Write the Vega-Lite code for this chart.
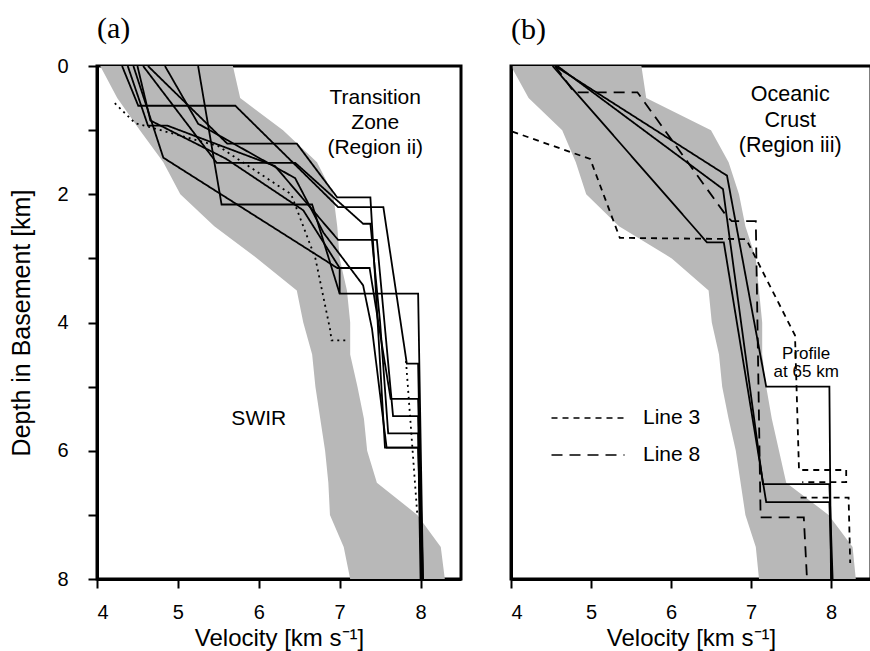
{
  "$schema": "https://vega.github.io/schema/vega-lite/v6.json",
  "padding": {"left": 8, "top": 12, "right": 0, "bottom": 0},
  "background": "white",
  "resolve": {"scale": {"strokeDash": "independent"}, "legend": {"strokeDash": "independent"}},
  "config": {
    "font": "Liberation Sans",
    "view": {"stroke": "black", "strokeWidth": 3},
    "axis": {"domainColor": "black", "domainWidth": 3, "tickColor": "black", "tickWidth": 2, "labelColor": "black", "titleColor": "black", "grid": false, "labelFontSize": 20, "titleFontSize": 25, "titleFontWeight": "normal", "labelFont": "Liberation Sans", "titleFont": "Liberation Sans"},
    "text": {"font": "Liberation Sans", "lineBreak": "\n", "color": "black"}
  },
  "datasets": {
    "envelope": [
      {"panel": "a", "d": 0, "v": 4.04, "v2": 5.68},
      {"panel": "a", "d": 0.5, "v": 4.25, "v2": 5.77},
      {"panel": "a", "d": 1.0, "v": 4.53, "v2": 6.3},
      {"panel": "a", "d": 1.5, "v": 4.82, "v2": 6.72},
      {"panel": "a", "d": 2.0, "v": 5.03, "v2": 6.92},
      {"panel": "a", "d": 2.5, "v": 5.45, "v2": 6.97},
      {"panel": "a", "d": 3.0, "v": 5.98, "v2": 7.0},
      {"panel": "a", "d": 3.5, "v": 6.47, "v2": 7.09},
      {"panel": "a", "d": 4.0, "v": 6.55, "v2": 7.13},
      {"panel": "a", "d": 4.5, "v": 6.66, "v2": 7.13},
      {"panel": "a", "d": 5.0, "v": 6.7, "v2": 7.22},
      {"panel": "a", "d": 5.5, "v": 6.76, "v2": 7.3},
      {"panel": "a", "d": 6.0, "v": 6.82, "v2": 7.34},
      {"panel": "a", "d": 6.5, "v": 6.86, "v2": 7.46},
      {"panel": "a", "d": 7.0, "v": 6.88, "v2": 7.96},
      {"panel": "a", "d": 7.5, "v": 7.05, "v2": 8.25},
      {"panel": "a", "d": 8.0, "v": 7.13, "v2": 8.3},
      {"panel": "b", "d": 0, "v": 4.0, "v2": 5.63},
      {"panel": "b", "d": 0.5, "v": 4.22, "v2": 5.69},
      {"panel": "b", "d": 1.0, "v": 4.64, "v2": 6.5},
      {"panel": "b", "d": 1.5, "v": 4.81, "v2": 6.72},
      {"panel": "b", "d": 2.0, "v": 4.94, "v2": 6.85},
      {"panel": "b", "d": 2.5, "v": 5.35, "v2": 6.93},
      {"panel": "b", "d": 3.0, "v": 6.01, "v2": 7.06},
      {"panel": "b", "d": 3.5, "v": 6.47, "v2": 7.1},
      {"panel": "b", "d": 4.0, "v": 6.51, "v2": 7.14},
      {"panel": "b", "d": 4.5, "v": 6.6, "v2": 7.14},
      {"panel": "b", "d": 5.0, "v": 6.64, "v2": 7.19},
      {"panel": "b", "d": 5.5, "v": 6.72, "v2": 7.26},
      {"panel": "b", "d": 6.0, "v": 6.81, "v2": 7.35},
      {"panel": "b", "d": 6.5, "v": 6.87, "v2": 7.44},
      {"panel": "b", "d": 7.0, "v": 6.93, "v2": 7.97},
      {"panel": "b", "d": 7.5, "v": 7.06, "v2": 8.27},
      {"panel": "b", "d": 8.0, "v": 7.1, "v2": 8.31}
    ],
    "profiles": [
      {"panel": "a", "id": "a1", "style": "solid", "i": 1, "v": 4.31, "d": 0},
      {"panel": "a", "id": "a1", "style": "solid", "i": 2, "v": 4.51, "d": 0.62},
      {"panel": "a", "id": "a1", "style": "solid", "i": 3, "v": 5.71, "d": 0.62},
      {"panel": "a", "id": "a1", "style": "solid", "i": 4, "v": 6.98, "d": 2.2},
      {"panel": "a", "id": "a1", "style": "solid", "i": 5, "v": 7.54, "d": 2.2},
      {"panel": "a", "id": "a1", "style": "solid", "i": 6, "v": 7.83, "d": 4.64},
      {"panel": "a", "id": "a1", "style": "solid", "i": 7, "v": 7.97, "d": 4.64},
      {"panel": "a", "id": "a1", "style": "solid", "i": 8, "v": 8.02, "d": 8},
      {"panel": "a", "id": "a2", "style": "solid", "i": 1, "v": 4.38, "d": 0},
      {"panel": "a", "id": "a2", "style": "solid", "i": 2, "v": 4.63, "d": 0.93},
      {"panel": "a", "id": "a2", "style": "solid", "i": 3, "v": 4.87, "d": 0.93},
      {"panel": "a", "id": "a2", "style": "solid", "i": 4, "v": 6.2, "d": 1.56},
      {"panel": "a", "id": "a2", "style": "solid", "i": 5, "v": 6.98, "d": 2.71},
      {"panel": "a", "id": "a2", "style": "solid", "i": 6, "v": 7.46, "d": 2.71},
      {"panel": "a", "id": "a2", "style": "solid", "i": 7, "v": 7.66, "d": 5.46},
      {"panel": "a", "id": "a2", "style": "solid", "i": 8, "v": 7.97, "d": 5.46},
      {"panel": "a", "id": "a2", "style": "solid", "i": 9, "v": 8.01, "d": 8},
      {"panel": "a", "id": "a3", "style": "solid", "i": 1, "v": 4.45, "d": 0},
      {"panel": "a", "id": "a3", "style": "solid", "i": 2, "v": 4.82, "d": 1.43},
      {"panel": "a", "id": "a3", "style": "solid", "i": 3, "v": 6.97, "d": 3.15},
      {"panel": "a", "id": "a3", "style": "solid", "i": 4, "v": 7.37, "d": 3.15},
      {"panel": "a", "id": "a3", "style": "solid", "i": 5, "v": 7.63, "d": 5.19},
      {"panel": "a", "id": "a3", "style": "solid", "i": 6, "v": 7.97, "d": 5.19},
      {"panel": "a", "id": "a3", "style": "solid", "i": 7, "v": 8.03, "d": 8},
      {"panel": "a", "id": "a4", "style": "solid", "i": 1, "v": 4.57, "d": 0},
      {"panel": "a", "id": "a4", "style": "solid", "i": 2, "v": 5.48, "d": 1.51},
      {"panel": "a", "id": "a4", "style": "solid", "i": 3, "v": 6.45, "d": 1.51},
      {"panel": "a", "id": "a4", "style": "solid", "i": 4, "v": 7.29, "d": 2.46},
      {"panel": "a", "id": "a4", "style": "solid", "i": 5, "v": 7.38, "d": 2.46},
      {"panel": "a", "id": "a4", "style": "solid", "i": 6, "v": 7.5, "d": 4.0},
      {"panel": "a", "id": "a4", "style": "solid", "i": 7, "v": 7.6, "d": 5.73},
      {"panel": "a", "id": "a4", "style": "solid", "i": 8, "v": 7.97, "d": 5.73},
      {"panel": "a", "id": "a4", "style": "solid", "i": 9, "v": 8.0, "d": 8},
      {"panel": "a", "id": "a5", "style": "solid", "i": 1, "v": 4.63, "d": 0},
      {"panel": "a", "id": "a5", "style": "solid", "i": 2, "v": 5.61, "d": 1.21},
      {"panel": "a", "id": "a5", "style": "solid", "i": 3, "v": 6.47, "d": 1.21},
      {"panel": "a", "id": "a5", "style": "solid", "i": 4, "v": 6.97, "d": 2.05},
      {"panel": "a", "id": "a5", "style": "solid", "i": 5, "v": 7.38, "d": 2.05},
      {"panel": "a", "id": "a5", "style": "solid", "i": 6, "v": 7.47, "d": 4.0},
      {"panel": "a", "id": "a5", "style": "solid", "i": 7, "v": 7.56, "d": 5.95},
      {"panel": "a", "id": "a5", "style": "solid", "i": 8, "v": 7.97, "d": 5.95},
      {"panel": "a", "id": "a5", "style": "solid", "i": 9, "v": 8.02, "d": 8},
      {"panel": "a", "id": "a6", "style": "solid", "i": 1, "v": 5.25, "d": 0},
      {"panel": "a", "id": "a6", "style": "solid", "i": 2, "v": 5.54, "d": 2.16},
      {"panel": "a", "id": "a6", "style": "solid", "i": 3, "v": 6.66, "d": 2.16},
      {"panel": "a", "id": "a6", "style": "solid", "i": 4, "v": 7.0, "d": 3.55},
      {"panel": "a", "id": "a6", "style": "solid", "i": 5, "v": 7.97, "d": 3.55},
      {"panel": "a", "id": "a6", "style": "solid", "i": 6, "v": 8.03, "d": 8},
      {"panel": "a", "id": "a7", "style": "solid", "i": 1, "v": 4.84, "d": 0},
      {"panel": "a", "id": "a7", "style": "solid", "i": 2, "v": 5.25, "d": 0.9},
      {"panel": "a", "id": "a7", "style": "solid", "i": 3, "v": 6.45, "d": 1.75},
      {"panel": "a", "id": "a7", "style": "solid", "i": 4, "v": 6.8, "d": 2.6},
      {"panel": "a", "id": "a7", "style": "solid", "i": 5, "v": 7.29, "d": 3.42},
      {"panel": "a", "id": "a7", "style": "solid", "i": 6, "v": 7.4, "d": 4.1},
      {"panel": "a", "id": "a7", "style": "solid", "i": 7, "v": 7.58, "d": 5.95},
      {"panel": "a", "id": "a7", "style": "solid", "i": 8, "v": 7.97, "d": 5.95},
      {"panel": "a", "id": "a8", "style": "solid", "i": 1, "v": 4.5, "d": 0},
      {"panel": "a", "id": "a8", "style": "solid", "i": 2, "v": 4.66, "d": 0.85},
      {"panel": "a", "id": "a8", "style": "solid", "i": 3, "v": 5.6, "d": 1.45},
      {"panel": "a", "id": "a8", "style": "solid", "i": 4, "v": 6.55, "d": 2.25},
      {"panel": "a", "id": "a8", "style": "solid", "i": 5, "v": 7.0, "d": 3.15},
      {"panel": "a", "id": "a8", "style": "solid", "i": 6, "v": 7.0, "d": 3.55},
      {"panel": "a", "id": "a9", "style": "dotted", "i": 1, "v": 4.22, "d": 0.58},
      {"panel": "a", "id": "a9", "style": "dotted", "i": 2, "v": 4.47, "d": 0.89},
      {"panel": "a", "id": "a9", "style": "dotted", "i": 3, "v": 5.5, "d": 1.25},
      {"panel": "a", "id": "a9", "style": "dotted", "i": 4, "v": 6.4, "d": 2.0},
      {"panel": "a", "id": "a9", "style": "dotted", "i": 5, "v": 6.7, "d": 3.0},
      {"panel": "a", "id": "a9", "style": "dotted", "i": 6, "v": 6.88, "d": 4.1},
      {"panel": "a", "id": "a9", "style": "dotted", "i": 7, "v": 6.9, "d": 4.28},
      {"panel": "a", "id": "a9", "style": "dotted", "i": 8, "v": 7.1, "d": 4.28},
      {"panel": "a", "id": "a10", "style": "dotted", "i": 1, "v": 7.82, "d": 4.6},
      {"panel": "a", "id": "a10", "style": "dotted", "i": 2, "v": 7.96, "d": 7.0},
      {"panel": "b", "id": "b1", "style": "solid", "i": 1, "v": 4.55, "d": 0},
      {"panel": "b", "id": "b1", "style": "solid", "i": 2, "v": 6.7, "d": 1.71},
      {"panel": "b", "id": "b1", "style": "solid", "i": 3, "v": 7.19, "d": 5.0},
      {"panel": "b", "id": "b1", "style": "solid", "i": 4, "v": 7.98, "d": 5.0},
      {"panel": "b", "id": "b1", "style": "solid", "i": 5, "v": 8.0, "d": 8},
      {"panel": "b", "id": "b2", "style": "solid", "i": 1, "v": 4.58, "d": 0},
      {"panel": "b", "id": "b2", "style": "solid", "i": 2, "v": 6.65, "d": 1.92},
      {"panel": "b", "id": "b2", "style": "solid", "i": 3, "v": 7.15, "d": 6.52},
      {"panel": "b", "id": "b2", "style": "solid", "i": 4, "v": 7.98, "d": 6.52},
      {"panel": "b", "id": "b2", "style": "solid", "i": 5, "v": 8.02, "d": 8},
      {"panel": "b", "id": "b3", "style": "solid", "i": 1, "v": 4.52, "d": 0},
      {"panel": "b", "id": "b3", "style": "solid", "i": 2, "v": 6.45, "d": 2.75},
      {"panel": "b", "id": "b3", "style": "solid", "i": 3, "v": 6.66, "d": 2.75},
      {"panel": "b", "id": "b3", "style": "solid", "i": 4, "v": 7.19, "d": 6.8},
      {"panel": "b", "id": "b3", "style": "solid", "i": 5, "v": 7.98, "d": 6.8},
      {"panel": "b", "id": "b3", "style": "solid", "i": 6, "v": 8.01, "d": 8},
      {"panel": "b", "id": "b4", "style": "Line 3", "i": 1, "v": 4.01, "d": 0},
      {"panel": "b", "id": "b4", "style": "Line 3", "i": 2, "v": 4.01, "d": 1.02},
      {"panel": "b", "id": "b4", "style": "Line 3", "i": 3, "v": 4.99, "d": 1.45},
      {"panel": "b", "id": "b4", "style": "Line 3", "i": 4, "v": 5.36, "d": 2.68},
      {"panel": "b", "id": "b4", "style": "Line 3", "i": 5, "v": 6.94, "d": 2.7},
      {"panel": "b", "id": "b4", "style": "Line 3", "i": 6, "v": 7.55, "d": 4.2},
      {"panel": "b", "id": "b4", "style": "Line 3", "i": 7, "v": 7.6, "d": 6.3},
      {"panel": "b", "id": "b4", "style": "Line 3", "i": 8, "v": 8.19, "d": 6.3},
      {"panel": "b", "id": "b4", "style": "Line 3", "i": 9, "v": 8.19, "d": 6.49},
      {"panel": "b", "id": "b4", "style": "Line 3", "i": 10, "v": 7.64, "d": 6.49},
      {"panel": "b", "id": "b5", "style": "Line 3", "i": 1, "v": 7.62, "d": 6.73},
      {"panel": "b", "id": "b5", "style": "Line 3", "i": 2, "v": 8.22, "d": 6.73},
      {"panel": "b", "id": "b5", "style": "Line 3", "i": 3, "v": 8.24, "d": 7.75},
      {"panel": "b", "id": "b6", "style": "Line 8", "i": 1, "v": 4.55, "d": 0},
      {"panel": "b", "id": "b6", "style": "Line 8", "i": 2, "v": 4.79, "d": 0.41},
      {"panel": "b", "id": "b6", "style": "Line 8", "i": 3, "v": 5.58, "d": 0.41},
      {"panel": "b", "id": "b6", "style": "Line 8", "i": 4, "v": 6.7, "d": 2.35},
      {"panel": "b", "id": "b6", "style": "Line 8", "i": 5, "v": 6.76, "d": 2.42},
      {"panel": "b", "id": "b6", "style": "Line 8", "i": 6, "v": 7.06, "d": 2.42},
      {"panel": "b", "id": "b6", "style": "Line 8", "i": 7, "v": 7.12, "d": 7.04},
      {"panel": "b", "id": "b6", "style": "Line 8", "i": 8, "v": 7.66, "d": 7.04},
      {"panel": "b", "id": "b6", "style": "Line 8", "i": 9, "v": 7.7, "d": 8}
    ],
    "notes": [
      {"panel": "a", "kind": "big", "text": "Transition\nZone\n(Region ii)", "v": 7.44, "d": 0.5},
      {"panel": "a", "kind": "big", "text": "SWIR", "v": 6.0, "d": 5.5},
      {"panel": "b", "kind": "big", "text": "Oceanic\nCrust\n(Region iii)", "v": 7.49, "d": 0.46},
      {"panel": "b", "kind": "small", "text": "Profile\nat 65 km", "v": 7.69, "d": 4.49}
    ]
  },
  "hconcat": [
    {
      "width": 364,
      "height": 513,
      "title": {"text": "(a)", "font": "Liberation Serif", "fontSize": 30, "fontWeight": "normal", "anchor": "start", "frame": "group", "offset": 12, "color": "black"},
      "layer": [
        {
          "data": {"name": "envelope"},
          "transform": [{"filter": "datum.panel == 'a'"}],
          "mark": {"type": "area", "orient": "horizontal", "fill": "#b8b8b8", "opacity": 1},
          "encoding": {
            "y": {"field": "d", "type": "quantitative", "scale": {"domain": [0, 8], "reverse": true, "nice": false, "zero": false},
                  "axis": {"title": "Depth in Basement [km]", "values": [0, 1, 2, 3, 4, 5, 6, 7, 8], "format": "d", "labelExpr": "datum.value % 2 == 0 ? datum.label : ''", "tickSize": 9, "labelPadding": 20, "titlePadding": 22}},
            "x": {"field": "v", "type": "quantitative", "scale": {"domain": [4, 8.5], "nice": false, "zero": false},
                  "axis": {"title": "Velocity [km s⁻¹]", "values": [4, 4.5, 5, 5.5, 6, 6.5, 7, 7.5, 8], "format": "d", "labelExpr": "datum.value % 1 == 0 ? datum.label : ''", "tickSize": 9, "labelPadding": 14, "titlePadding": 4, "titleFontSize": 24}},
            "x2": {"field": "v2"}
          }
        },
        {
          "data": {"name": "profiles"},
          "transform": [{"filter": "datum.panel == 'a'"}],
          "mark": {"type": "line", "color": "black", "strokeWidth": 1.8, "clip": true},
          "encoding": {
            "x": {"field": "v", "type": "quantitative"},
            "y": {"field": "d", "type": "quantitative"},
            "detail": {"field": "id"},
            "order": {"field": "i", "type": "quantitative"},
            "strokeDash": {"field": "style", "type": "nominal", "scale": {"domain": ["solid", "dotted"], "range": [[1, 0], [2, 4]]}, "legend": null}
          }
        },
        {
          "data": {"name": "notes"},
          "transform": [{"filter": "datum.panel == 'a'"}],
          "mark": {"type": "text", "fontSize": 21, "lineHeight": 25, "align": "center", "baseline": "middle"},
          "encoding": {
            "x": {"field": "v", "type": "quantitative"},
            "y": {"field": "d", "type": "quantitative"},
            "text": {"field": "text"}
          }
        }
      ]
    },
    {
      "width": 360,
      "height": 513,
      "title": {"text": "(b)", "font": "Liberation Serif", "fontSize": 30, "fontWeight": "normal", "anchor": "start", "frame": "group", "offset": 21, "color": "black"},
      "layer": [
        {
          "data": {"name": "envelope"},
          "transform": [{"filter": "datum.panel == 'b'"}],
          "mark": {"type": "area", "orient": "horizontal", "fill": "#b8b8b8", "opacity": 1},
          "encoding": {
            "y": {"field": "d", "type": "quantitative", "scale": {"domain": [0, 8], "reverse": true, "nice": false, "zero": false},
                  "axis": {"title": null, "labels": false, "ticks": false}},
            "x": {"field": "v", "type": "quantitative", "scale": {"domain": [4, 8.5], "nice": false, "zero": false},
                  "axis": {"title": "Velocity [km s⁻¹]", "values": [4, 4.5, 5, 5.5, 6, 6.5, 7, 7.5, 8], "format": "d", "labelExpr": "datum.value % 1 == 0 ? datum.label : ''", "tickSize": 9, "labelPadding": 14, "titlePadding": 4, "titleFontSize": 24}},
            "x2": {"field": "v2"}
          }
        },
        {
          "data": {"name": "profiles"},
          "transform": [{"filter": "datum.panel == 'b'"}],
          "mark": {"type": "line", "color": "black", "strokeWidth": 1.8, "clip": true},
          "encoding": {
            "x": {"field": "v", "type": "quantitative"},
            "y": {"field": "d", "type": "quantitative"},
            "detail": {"field": "id"},
            "order": {"field": "i", "type": "quantitative"},
            "strokeDash": {"field": "style", "type": "nominal", "scale": {"domain": ["solid", "Line 3", "Line 8"], "range": [[1, 0], [6, 5], [11, 7]]},
              "legend": {"values": ["Line 3", "Line 8"], "title": null, "orient": "none", "legendX": 66, "legendY": 341, "padding": 0, "symbolType": "M-3.65,0H3.65", "symbolSize": 400, "symbolStrokeWidth": 1.6, "symbolStrokeColor": "black", "labelFontSize": 21, "labelFont": "Liberation Sans", "labelColor": "black", "labelOffset": 44, "rowPadding": 16}}
          }
        },
        {
          "data": {"name": "notes"},
          "transform": [{"filter": "datum.panel == 'b' && datum.kind == 'big'"}],
          "mark": {"type": "text", "fontSize": 21.5, "lineHeight": 25.5, "align": "center", "baseline": "middle"},
          "encoding": {
            "x": {"field": "v", "type": "quantitative"},
            "y": {"field": "d", "type": "quantitative"},
            "text": {"field": "text"}
          }
        },
        {
          "data": {"name": "notes"},
          "transform": [{"filter": "datum.panel == 'b' && datum.kind == 'small'"}],
          "mark": {"type": "text", "fontSize": 17, "lineHeight": 18, "align": "center", "baseline": "middle"},
          "encoding": {
            "x": {"field": "v", "type": "quantitative"},
            "y": {"field": "d", "type": "quantitative"},
            "text": {"field": "text"}
          }
        }
      ]
    }
  ],
  "spacing": 45
}
